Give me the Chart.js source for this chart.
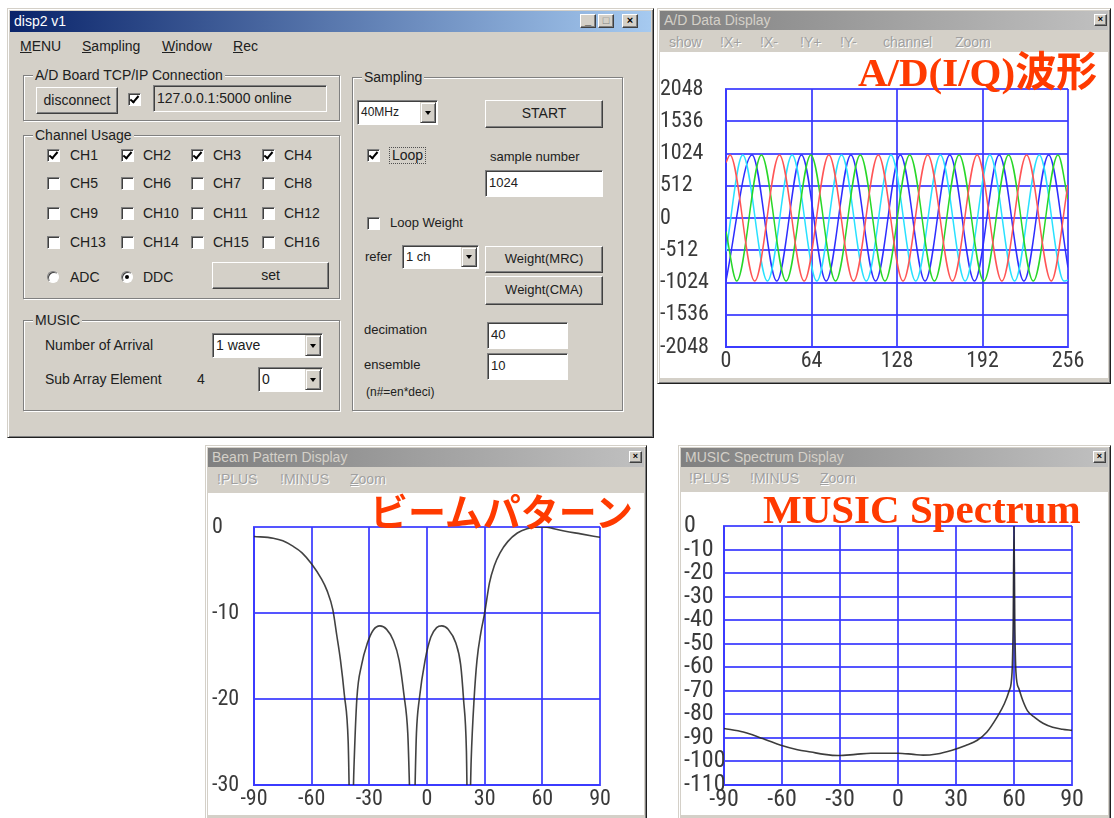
<!DOCTYPE html>
<html>
<head>
<meta charset="utf-8">
<title>disp2 v1</title>
<script src="https://cdn.jsdelivr.net/npm/chart.js@4/dist/chart.umd.min.js"></script>
<style>
html, body { margin:0; padding:0; background:#fff; width:1114px; height:818px; overflow:hidden;
  font-family:"Liberation Sans", Arial, sans-serif; font-size:14px; color:#202020; }
.win { position:absolute; box-sizing:border-box; background:#d4d0c8; border:1px solid;
  border-color:#d4d0c8 #202020 #202020 #d4d0c8; box-shadow:inset 1px 1px #fff, inset -1px -1px #808080; }
.cap { position:absolute; height:19px; line-height:19px; padding-left:4px; box-sizing:border-box; white-space:nowrap; }
.cap.on  { background:linear-gradient(to right,#0a246a,#a6caf0); color:#fff; }
.cap.off { background:linear-gradient(to right,#808080,#c0c0c0); color:#d4d0c8; }
.tb { position:absolute; top:2px; width:16px; height:14px; box-sizing:border-box; background:#d4d0c8;
  border:1px solid; border-color:#fff #404040 #404040 #fff; box-shadow:inset -1px -1px #808080;
  font:bold 11px/11px "Liberation Sans", sans-serif; text-align:center; color:#000; }
.menu { position:absolute; line-height:16px; white-space:nowrap; }
.menu.dim { color:#a0a0a0; text-shadow:1px 1px #fff; }
.btn { position:absolute; box-sizing:border-box; background:#d4d0c8; border:1px solid;
  border-color:#fff #404040 #404040 #fff; box-shadow:inset -1px -1px #808080;
  text-align:center; white-space:nowrap; }
.sunk { position:absolute; box-sizing:border-box; border:1px solid; border-color:#808080 #fff #fff #808080;
  box-shadow:inset 1px 1px #404040; background:#fff; padding-left:3px; white-space:nowrap; }
.grp { position:absolute; box-sizing:border-box; border:1px solid #808080; box-shadow:inset 1px 1px #fff, 1px 1px #fff; }
.grp > span { position:absolute; top:-9px; left:9px; background:#d4d0c8; padding:0 2px; line-height:16px; white-space:nowrap; }
.lbl { position:absolute; line-height:16px; white-space:nowrap; }
.cb { position:absolute; width:13px; height:13px; box-sizing:border-box; background:#fff; border:1px solid;
  border-color:#808080 #fff #fff #808080; box-shadow:inset 1px 1px #404040; }
.cb.on::after { content:""; position:absolute; left:3px; top:0px; width:3px; height:7px;
  border:solid #000; border-width:0 2px 2px 0; transform:rotate(40deg); }
.rb { position:absolute; width:12px; height:12px; box-sizing:border-box; border-radius:50%; background:#fff;
  border:1px solid; border-color:#808080 #fff #fff #808080; box-shadow:inset 1px 1px #404040; }
.rb.on::after { content:""; position:absolute; left:3px; top:3px; width:4px; height:4px; border-radius:50%; background:#000; }
.dd { position:absolute; top:1px; right:1px; bottom:1px; width:16px; box-sizing:border-box; background:#d4d0c8;
  border:1px solid; border-color:#d4d0c8 #404040 #404040 #d4d0c8; box-shadow:inset 1px 1px #fff, inset -1px -1px #808080; }
.dd::after { content:""; position:absolute; left:4px; top:50%; margin-top:-2px; border:3px solid transparent;
  border-top:4px solid #000; border-bottom:0; }
.client { position:absolute; background:#fff; box-sizing:border-box; }
.red { position:absolute; color:#ff3a00; white-space:nowrap; line-height:1; }
canvas { position:absolute; }
</style>
</head>
<body>

<!-- main control dialog -->
<div class="win" style="left:7px;top:8px;width:647px;height:430px;"></div>
<div class="cap on" style="left:10px;top:11px;width:641px;height:21px;line-height:21px;">disp2 v1
  <div class="tb" style="left:570px;top:3px;">_</div>
  <div class="tb" style="left:588px;top:3px;color:#808080;">□</div>
  <div class="tb" style="left:612px;top:3px;">×</div>
</div>
<div class="menu" style="left:20px;top:38px;"><u>M</u>ENU</div>
<div class="menu" style="left:82px;top:38px;"><u>S</u>ampling</div>
<div class="menu" style="left:162px;top:38px;"><u>W</u>indow</div>
<div class="menu" style="left:233px;top:38px;"><u>R</u>ec</div>

<div class="grp" style="left:23px;top:75px;width:317px;height:46px;"><span>A/D Board TCP/IP Connection</span></div>
<div class="btn" style="left:36px;top:87px;width:82px;height:27px;line-height:24px;">disconnect</div>
<div class="cb on" style="left:128px;top:93px;"></div>
<div class="sunk" style="left:153px;top:85px;width:174px;height:27px;line-height:24px;background:#d4d0c8;">127.0.0.1:5000 online</div>

<div class="grp" style="left:23px;top:135px;width:317px;height:164px;"><span>Channel Usage</span></div>
<div class="cb on" style="left:47px;top:149px;"></div><div class="lbl" style="left:70px;top:147px;">CH1</div>
<div class="cb on" style="left:121px;top:149px;"></div><div class="lbl" style="left:143px;top:147px;">CH2</div>
<div class="cb on" style="left:191px;top:149px;"></div><div class="lbl" style="left:213px;top:147px;">CH3</div>
<div class="cb on" style="left:262px;top:149px;"></div><div class="lbl" style="left:284px;top:147px;">CH4</div>
<div class="cb" style="left:47px;top:177px;"></div><div class="lbl" style="left:70px;top:175px;">CH5</div>
<div class="cb" style="left:121px;top:177px;"></div><div class="lbl" style="left:143px;top:175px;">CH6</div>
<div class="cb" style="left:191px;top:177px;"></div><div class="lbl" style="left:213px;top:175px;">CH7</div>
<div class="cb" style="left:262px;top:177px;"></div><div class="lbl" style="left:284px;top:175px;">CH8</div>
<div class="cb" style="left:47px;top:207px;"></div><div class="lbl" style="left:70px;top:205px;">CH9</div>
<div class="cb" style="left:121px;top:207px;"></div><div class="lbl" style="left:143px;top:205px;">CH10</div>
<div class="cb" style="left:191px;top:207px;"></div><div class="lbl" style="left:213px;top:205px;">CH11</div>
<div class="cb" style="left:262px;top:207px;"></div><div class="lbl" style="left:284px;top:205px;">CH12</div>
<div class="cb" style="left:47px;top:236px;"></div><div class="lbl" style="left:70px;top:234px;">CH13</div>
<div class="cb" style="left:121px;top:236px;"></div><div class="lbl" style="left:143px;top:234px;">CH14</div>
<div class="cb" style="left:191px;top:236px;"></div><div class="lbl" style="left:213px;top:234px;">CH15</div>
<div class="cb" style="left:262px;top:236px;"></div><div class="lbl" style="left:284px;top:234px;">CH16</div>
<div class="rb" style="left:47px;top:271px;"></div><div class="lbl" style="left:70px;top:269px;">ADC</div>
<div class="rb on" style="left:121px;top:271px;"></div><div class="lbl" style="left:143px;top:269px;">DDC</div>
<div class="btn" style="left:212px;top:262px;width:117px;height:27px;line-height:24px;">set</div>

<div class="grp" style="left:23px;top:320px;width:317px;height:91px;"><span>MUSIC</span></div>
<div class="lbl" style="left:45px;top:337px;">Number of Arrival</div>
<div class="sunk" style="left:212px;top:333px;width:111px;height:25px;line-height:22px;">1 wave<div class="dd"></div></div>
<div class="lbl" style="left:45px;top:371px;">Sub Array Element</div>
<div class="lbl" style="left:197px;top:371px;">4</div>
<div class="sunk" style="left:258px;top:367px;width:65px;height:25px;line-height:22px;">0<div class="dd"></div></div>

<div class="grp" style="left:352px;top:77px;width:271px;height:334px;"><span>Sampling</span></div>
<div class="sunk" style="left:357px;top:100px;width:81px;height:25px;line-height:22px;font-size:12px;">40MHz<div class="dd"></div></div>
<div class="btn" style="left:485px;top:100px;width:118px;height:28px;line-height:25px;">START</div>
<div class="cb on" style="left:367px;top:149px;"></div>
<div class="lbl" style="left:389px;top:147px;border:1px dotted #505050;padding:0 2px;line-height:15px;">Loop</div>
<div class="lbl" style="left:490px;top:149px;font-size:13px;">sample number</div>
<div class="sunk" style="left:485px;top:170px;width:118px;height:27px;line-height:24px;font-size:13px;">1024</div>
<div class="cb" style="left:367px;top:217px;"></div>
<div class="lbl" style="left:390px;top:215px;font-size:13px;">Loop Weight</div>
<div class="lbl" style="left:365px;top:249px;font-size:13px;">refer</div>
<div class="sunk" style="left:402px;top:245px;width:77px;height:24px;line-height:21px;font-size:13px;">1 ch<div class="dd"></div></div>
<div class="btn" style="left:485px;top:246px;width:118px;height:27px;line-height:24px;font-size:13px;">Weight(MRC)</div>
<div class="btn" style="left:485px;top:276px;width:118px;height:29px;line-height:26px;font-size:13px;">Weight(CMA)</div>
<div class="lbl" style="left:364px;top:322px;font-size:13px;">decimation</div>
<div class="sunk" style="left:487px;top:322px;width:81px;height:27px;line-height:24px;font-size:13px;">40</div>
<div class="lbl" style="left:364px;top:357px;font-size:13px;">ensemble</div>
<div class="sunk" style="left:487px;top:353px;width:81px;height:27px;line-height:24px;font-size:13px;">10</div>
<div class="lbl" style="left:366px;top:384px;font-size:12px;">(n#=en*deci)</div>

<!-- A/D data window -->
<div class="win" style="left:657px;top:8px;width:454px;height:376px;"></div>
<div class="cap off" style="left:660px;top:11px;width:448px;">A/D Data Display
  <div class="tb" style="left:434px;top:3px;width:13px;height:12px;font-size:9px;line-height:9px;">×</div>
</div>
<div class="menu dim" style="left:669px;top:34px;">show</div>
<div class="menu dim" style="left:720px;top:34px;">!X+</div>
<div class="menu dim" style="left:760px;top:34px;">!X-</div>
<div class="menu dim" style="left:800px;top:34px;">!Y+</div>
<div class="menu dim" style="left:840px;top:34px;">!Y-</div>
<div class="menu dim" style="left:883px;top:34px;">channel</div>
<div class="menu dim" style="left:955px;top:34px;">Zoom</div>
<div class="client" style="left:660px;top:52px;width:448px;height:326px;"></div>
<canvas id="adChart" width="448" height="326" style="left:660px;top:52px;"></canvas>
<div class="red" style="left:858px;top:38px;font:bold 41px 'Liberation Serif','Noto Sans CJK JP',serif;">A/D(I/Q)波形</div>

<!-- beam pattern window -->
<div class="win" style="left:205px;top:445px;width:442px;height:380px;"></div>
<div class="cap off" style="left:208px;top:448px;width:436px;">Beam Pattern Display
  <div class="tb" style="left:421px;top:3px;width:13px;height:12px;font-size:9px;line-height:9px;">×</div>
</div>
<div class="menu dim" style="left:217px;top:471px;">!PLUS</div>
<div class="menu dim" style="left:280px;top:471px;">!MINUS</div>
<div class="menu dim" style="left:350px;top:471px;"><u>Z</u>oom</div>
<div class="client" style="left:208px;top:493px;width:436px;height:322px;"></div>
<canvas id="beamChart" width="436" height="322" style="left:208px;top:493px;"></canvas>
<div class="red" style="left:370px;top:482px;font:bold 38px 'Noto Sans CJK JP',sans-serif;">ビームパターン</div>

<!-- MUSIC spectrum window -->
<div class="win" style="left:678px;top:445px;width:433px;height:380px;"></div>
<div class="cap off" style="left:681px;top:448px;width:427px;">MUSIC Spectrum Display
  <div class="tb" style="left:412px;top:3px;width:13px;height:12px;font-size:9px;line-height:9px;">×</div>
</div>
<div class="menu dim" style="left:689px;top:470px;">!PLUS</div>
<div class="menu dim" style="left:750px;top:470px;">!MINUS</div>
<div class="menu dim" style="left:820px;top:470px;"><u>Z</u>oom</div>
<div class="client" style="left:681px;top:492px;width:427px;height:323px;"></div>
<canvas id="musicChart" width="427" height="323" style="left:681px;top:492px;"></canvas>
<div class="red" style="left:763px;top:485px;font:bold 41px 'Liberation Serif',serif;">MUSIC Spectrum</div>

<script>
// ---- A/D waveform: sample index / amplitude at each turning point, per channel ----
const ch1Idx = [0, 3, 21.5, 40, 58.5, 77, 95.5, 114, 132.5, 151, 169.5, 188, 206.5, 225, 243.5, 256];
const ch1Val = [880, 1000, -1000, 1000, -1000, 1000, -1000, 1000, -1000, 1000, -1000, 1000, -1000, 1000, -1000, 530];
const ch2Idx = [0, 12.5, 31, 49.5, 68, 86.5, 105, 123.5, 142, 160.5, 179, 197.5, 216, 234.5, 253, 256];
const ch2Val = [-530, 1000, -1000, 1000, -1000, 1000, -1000, 1000, -1000, 1000, -1000, 1000, -1000, 1000, -1000, -985];
const ch3Idx = [0, 19.5, 38, 56.5, 75, 93.5, 112, 130.5, 149, 167.5, 186, 204.5, 223, 241.5, 256];
const ch3Val = [-995, 1000, -1000, 1000, -1000, 1000, -1000, 1000, -1000, 1000, -1000, 1000, -1000, 1000, -785];
const ch4Idx = [0, 8, 26.5, 45, 63.5, 82, 100.5, 119, 137.5, 156, 174.5, 193, 211.5, 230, 248.5, 256];
const ch4Val = [-215, -1000, 1000, -1000, 1000, -1000, 1000, -1000, 1000, -1000, 1000, -1000, 1000, -1000, 1000, 295];
const adTicksX = [0, 64, 128, 192, 256];
const adTicksY = [-2048, -1536, -1024, -512, 0, 512, 1024, 1536, 2048];

// ---- beam pattern (angle in degrees, normalised gain in dB) ----
const beamAngle = [-90, -80, -75, -70, -65, -60, -55, -52, -49, -47, -45, -43, -41, -39.5, -38, -36.5, -34, -31, -28, -24.5,
  -21, -17.5, -14.5, -12, -10, -7.5, -5.5, -4, -1, 2, 5, 7.7, 11, 15, 17.5, 19, 20.5, 21.5, 23, 24.5, 26, 28, 30, 32.5,
  35, 38, 42, 47, 52, 57, 61, 66, 72, 80, 90];
const beamGain = [-1.1, -1.3, -1.6, -2.2, -3.0, -4.3, -6.0, -7.4, -9.6, -12.5, -15.5, -19.5, -25, -40, -28, -20, -16, -13.5, -12.0, -11.5,
  -11.9, -13.2, -15.5, -19.5, -24, -40, -24, -20, -15.5, -12.8, -11.7, -11.5, -11.9, -13.5, -16, -20, -26, -40, -27, -20, -15.5, -12.3, -10, -6.5,
  -4.5, -3.0, -1.7, -0.7, -0.2, 0, 0, -0.2, -0.5, -0.8, -1.2];
const beamTicksX = [-90, -60, -30, 0, 30, 60, 90];
const beamTicksY = [-30, -20, -10, 0];

// ---- MUSIC pseudo-spectrum (angle in degrees, level in dB) ----
const musicAngle = [-90, -80, -75, -70, -61, -52, -45, -38, -31, -22, -14, 0, 8, 13, 20, 28, 35, 41, 46, 51, 55,
  57.5, 59, 59.6, 60, 60.4, 61, 62.5, 64.5, 67, 71, 75, 80, 85, 90];
const musicLevel = [-86, -87.5, -88.8, -90.3, -93, -95, -96, -97, -97.5, -97, -96.5, -96.5, -97, -97.3, -96.8, -95.2, -93.2, -91, -87.5, -81.5, -75.5,
  -70, -62, -40, 0, -40, -62, -69, -74, -78.5, -81.5, -83.8, -85.5, -86.3, -86.8];
const musicTicksX = [-90, -60, -30, 0, 30, 60, 90];
const musicTicksY = [-110, -100, -90, -80, -70, -60, -50, -40, -30, -20, -10, 0];

// ---- shared styling ----
const GRID_BLUE = 'rgba(55,55,255,0.85)';
const LABEL_GREY = '#3a3a3a';

// Pick a narrow sans face for the axis numbers, falling back to Liberation Sans.
const axisFace = (function () {
  const ctx = document.createElement('canvas').getContext('2d');
  const probe = '1024-0';
  const widthOf = f => { ctx.font = f; return ctx.measureText(probe).width; };
  const monoW = widthOf('100px monospace');
  const serifW = widthOf('100px serif');
  const installed = fam => widthOf('100px ' + fam + ', monospace') !== monoW || widthOf('100px ' + fam + ', serif') !== serifW;
  const options = [];
  ['"Liberation Sans Narrow"', '"Noto Sans Condensed"', '"Noto Sans SemiCondensed"', '"Roboto Condensed"',
   '"DejaVu Sans Condensed"', '"Open Sans Condensed"', '"Arial Narrow"'].forEach(fam => {
    if (installed(fam)) options.push({ family: fam, weight: undefined, w: widthOf('100px ' + fam) });
  });
  ['"Noto Sans"', '"Open Sans"', 'Roboto', 'Inter'].forEach(fam => {
    if (!installed(fam)) return;
    const plain = widthOf('100px ' + fam);
    const narrow = widthOf('condensed 100px ' + fam);
    if (narrow < plain - 1) options.push({ family: fam, weight: 'condensed', w: narrow });
  });
  const target = 270;   // width of the probe text at 100px for a narrow face
  let best = { family: '"Liberation Sans"', weight: undefined, w: widthOf('100px "Liberation Sans"') };
  options.forEach(o => { if (Math.abs(o.w - target) < Math.abs(best.w - target)) best = o; });
  best.measure = (text, size) => widthOf((best.weight ? best.weight + ' ' : '') + size + 'px ' + best.family) * 0 +
    (function () { ctx.font = (best.weight ? best.weight + ' ' : '') + size + 'px ' + best.family; return ctx.measureText(text).width; })();
  return best;
})();

// Font size giving a sample label the wanted width, capped at the wanted height.
function fitSize(sample, wantWidth, maxSize) {
  const w = axisFace.measure(sample, 100);
  return Math.min(maxSize, Math.round(wantWidth * 100 / w * 2) / 2);
}

function pairs(xs, ys) { return xs.map((x, i) => ({ x: x, y: ys[i] })); }

function axis(opts) {
  return {
    type: 'linear', min: opts.min, max: opts.max,
    afterBuildTicks: s => { s.ticks = opts.ticks.map(v => ({ value: v })); },
    afterFit: s => { if (opts.width !== undefined) s.width = opts.width; if (opts.height !== undefined) s.height = opts.height; },
    grid: { color: GRID_BLUE, lineWidth: 2, drawTicks: false },
    border: { color: GRID_BLUE, width: 2 },
    ticks: { font: { family: axisFace.family, weight: axisFace.weight, size: opts.size }, color: LABEL_GREY,
      padding: opts.pad || 0, crossAlign: opts.cross || 'near', autoSkip: false, maxRotation: 0, callback: v => String(v) }
  };
}

function lineChart(id, datasets, pad, xAxis, yAxis) {
  return new Chart(document.getElementById(id), {
    type: 'line',
    data: { datasets: datasets },
    options: {
      responsive: false, animation: false, events: [],
      layout: { padding: pad },
      plugins: { legend: { display: false }, tooltip: { enabled: false } },
      elements: { point: { radius: 0 }, line: { cubicInterpolationMode: 'monotone' } },
      scales: { x: xAxis, y: yAxis }
    }
  });
}

function trace(xs, ys, colour, width) {
  return { data: pairs(xs, ys), borderColor: colour, borderWidth: width, fill: false };
}

const adSize = fitSize('1024', 43, 23);
const beamSize = fitSize('-10', 31, 22);
const musicSize = fitSize('-100', 44, 24);

lineChart('adChart', [
    trace(ch1Idx, ch1Val, 'rgb(255,85,85)', 1.5),
    trace(ch4Idx, ch4Val, 'rgb(40,215,40)', 1.5),
    trace(ch2Idx, ch2Val, 'rgb(40,225,255)', 1.5),
    trace(ch3Idx, ch3Val, 'rgb(45,45,255)', 1.5)
  ],
  { top: 37, right: 40, left: 0, bottom: 0 },
  axis({ min: 0, max: 256, ticks: adTicksX, height: 31, size: adSize, pad: 1 }),
  axis({ min: -2048, max: 2048, ticks: adTicksY, width: 66, size: adSize, cross: 'far' }));

lineChart('beamChart', [ trace(beamAngle, beamGain, 'rgba(45,45,45,0.9)', 1.6) ],
  { top: 34, right: 44, left: 4, bottom: 0 },
  axis({ min: -90, max: 90, ticks: beamTicksX, height: 30, size: beamSize, pad: 1 }),
  axis({ min: -30, max: 0, ticks: beamTicksY, width: 42, size: beamSize, cross: 'far' }));

lineChart('musicChart', [ trace(musicAngle, musicLevel, 'rgba(40,40,40,0.9)', 1.6) ],
  { top: 34, right: 36, left: 3, bottom: 0 },
  axis({ min: -90, max: 90, ticks: musicTicksX, height: 30, size: musicSize, pad: 1 }),
  axis({ min: -110, max: 0, ticks: musicTicksY, width: 40, size: musicSize, cross: 'far' }));
</script>
</body>
</html>
